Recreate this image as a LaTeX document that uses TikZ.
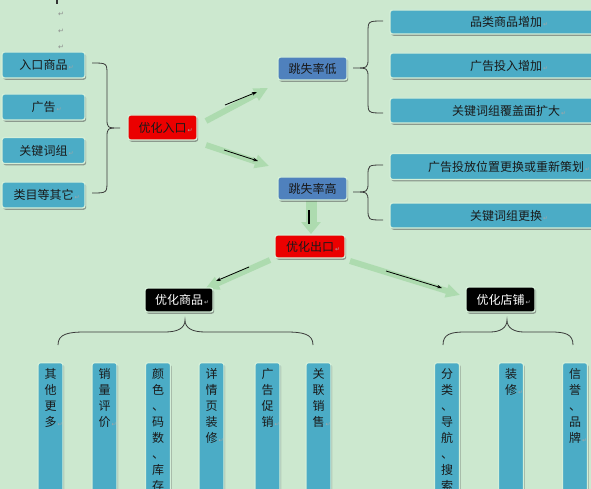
\documentclass[tikz,border=0pt]{standalone}
\usepackage{fontspec}
\newfontfamily\cjkfont{Noto Sans CJK SC}
\newfontfamily\symfont{DejaVu Sans}
\usetikzlibrary{arrows.meta,shadows}
\definecolor{bg}{HTML}{CCE8CF}
\definecolor{aqua}{HTML}{4BACC6}
\definecolor{steel}{HTML}{4F81BD}
\definecolor{edge}{HTML}{D4EFD8}
\definecolor{garrow}{HTML}{ADDBAF}
\definecolor{bracec}{HTML}{3A3A3A}
\newcommand{\retmark}{\rlap{\symfont\fontsize{6}{6}\selectfont\color{black!35}\,↵}}
\newcommand{\retmarkw}{\rlap{\symfont\fontsize{6}{6}\selectfont\color{white!75!black}\,↵}}
\tikzset{
  box/.style={rounded corners=2.5pt, draw=edge, line width=1.3pt, inner sep=0pt,
    font=\cjkfont\fontsize{12}{14}\selectfont, text=black!90,
    drop shadow={shadow xshift=1.2pt, shadow yshift=-1.8pt, opacity=0.5, fill=black!70}},
  aquabox/.style={box, fill=aqua},
  steelbox/.style={box, fill=steel},
  redbox/.style={box, fill=red!92!black},
  blackbox/.style={box, fill=black, text=white},
  vbox/.style={aquabox, minimum width=25pt, minimum height=150pt, anchor=north},
  vtext/.style={font=\cjkfont\fontsize{12}{16}\selectfont, align=center, inner sep=0pt, anchor=north, text=black!90},
  bracestyle/.style={draw=bracec, line width=0.8pt},
  bigarrow/.style={draw=garrow, line width=6pt, -{Triangle[width=13pt 0, length=14pt 0]}},
  downarrow/.style={draw=garrow, line width=11pt, -{Triangle[width=19pt 0, length=12pt 0]}},
  thinarrow/.style={draw=black, line width=0.8pt, -{Stealth[length=5pt 0, width=3.5pt 0]}},
  pmark/.style={font=\symfont\fontsize{7}{7}\selectfont, text=black!45, inner sep=0pt}
}
\begin{document}
\begin{tikzpicture}[x=1pt,y=-1pt]
\fill[bg] (0,0) rectangle (591,489);
\useasboundingbox (0,0) rectangle (591,489);
\clip (0,0) rectangle (591,489);

% paragraph marks and cursor at top left
\draw[line width=1.2pt, black!80] (57,0) -- (57,4);
\node[pmark] (p1) at (61,14) {↵};
\node[pmark] (p2) at (61,31) {↵};
\node[pmark] (p3) at (61,47) {↵};

% coordinates of the block arrows
\coordinate (a1t) at (206,121);
\coordinate (a1h) at (268,88);
\coordinate (b1t) at (225,105);
\coordinate (b1h) at (257,92);
\coordinate (a2t) at (206,145);
\coordinate (a2h) at (269,166);
\coordinate (b2t) at (224,150);
\coordinate (b2h) at (258,161);
\coordinate (a3t) at (311,200);
\coordinate (a3h) at (311,234);
\coordinate (b3t) at (309,210);
\coordinate (b3h) at (309,224);
\coordinate (a4t) at (270,260);
\coordinate (a4h) at (205,289);
\coordinate (b4t) at (249,267);
\coordinate (b4h) at (216,281);
\coordinate (a5t) at (350,261);
\coordinate (a5h) at (460,295);
\coordinate (b5t) at (386,271);
\coordinate (b5h) at (442,288);

% green block arrows
\draw[bigarrow] (a1t) -- (a1h);
\draw[bigarrow] (a2t) -- (a2h);
\draw[downarrow] (a3t) -- (a3h);
\draw[bigarrow] (a4t) -- (a4h);
\draw[bigarrow] (a5t) -- (a5h);
\draw[thinarrow] (b1t) -- (b1h);
\draw[thinarrow] (b2t) -- (b2h);
\draw[line width=1.6pt, black] (b3t) -- (b3h);
\draw[thinarrow] (b4t) -- (b4h);
\draw[thinarrow] (b5t) -- (b5h);

% left column
\node[aquabox, minimum width=83pt, minimum height=26pt] (l1) at (43.5,65) {入口商品\retmark};
\node[aquabox, minimum width=83pt, minimum height=26pt] (l2) at (43.5,107) {广告\retmark};
\node[aquabox, minimum width=83pt, minimum height=26pt] (l3) at (43.5,150.5) {关键词组\retmark};
\node[aquabox, minimum width=83pt, minimum height=26pt] (l4) at (43.5,195) {类目等其它\retmark};

% left brace
\draw[bracestyle] (92,63) .. controls (107,63) .. (107,75) -- (107,118) .. controls (107,128) .. (120,128)
  .. controls (107,128) .. (107,138) -- (107,181) .. controls (107,193) .. (92,193);

\node[redbox, minimum width=69pt, minimum height=25pt] (optin) at (162.5,127.5) {优化入口\retmark};

\node[steelbox, minimum width=69pt, minimum height=23pt] (low) at (312.5,68.5) {跳失率低};
\node[steelbox, minimum width=69pt, minimum height=23pt] (high) at (312.5,188.5) {跳失率高};

% right braces
\draw[bracestyle] (383,21) .. controls (368,21) .. (368,33) -- (368,58) .. controls (368,68) .. (353,68)
  .. controls (368,68) .. (368,78) -- (368,101) .. controls (368,113) .. (383,113);
\draw[bracestyle] (383,165) .. controls (368,165) .. (368,176) -- (368,182) .. controls (368,192) .. (353,192)
  .. controls (368,192) .. (368,202) -- (368,209) .. controls (368,220) .. (383,220);

% right column
\node[aquabox, minimum width=232pt, minimum height=24pt] (r1) at (506,22) {品类商品增加\retmark};
\node[aquabox, minimum width=232pt, minimum height=25pt] (r2) at (506,65.5) {广告投入增加\retmark};
\node[aquabox, minimum width=232pt, minimum height=25pt] (r3) at (506,110.5) {关键词组覆盖面扩大\retmark};
\node[aquabox, minimum width=232pt, minimum height=26pt] (r4) at (506,166.5) {广告投放位置更换或重新策划\retmark};
\node[aquabox, minimum width=232pt, minimum height=25pt] (r5) at (506,215.5) {关键词组更换\retmark};

\node[redbox, minimum width=70pt, minimum height=23pt] (optout) at (310,246.5) {优化出口\retmark};

\node[blackbox, minimum width=68pt, minimum height=24pt] (goods) at (179,300) {优化商品\retmarkw};
\node[blackbox, minimum width=69pt, minimum height=25pt] (shop) at (500.5,299.5) {优化店铺\retmarkw};

% bottom braces
\draw[bracestyle] (58,345) .. controls (58,334) and (68,332) .. (85,332) -- (165,332)
  .. controls (178,332) and (185,328) .. (185,320) .. controls (185,328) and (192,332) .. (205,332)
  -- (286,332) .. controls (303,332) and (313,334) .. (313,345);
\draw[bracestyle] (443,345) .. controls (443,334) and (451,332) .. (465,332) -- (490,332)
  .. controls (500,332) and (507,328) .. (507,320) .. controls (507,328) and (514,332) .. (524,332)
  -- (551,332) .. controls (565,332) and (573,334) .. (573,345);

% vertical boxes
\node[vbox] (g1) at (50.5,362) {};
\node[vbox] (g2) at (104.5,362) {};
\node[vbox] (g3) at (158,362) {};
\node[vbox] (g4) at (211.5,362) {};
\node[vbox] (g5) at (267.5,362) {};
\node[vbox] (g6) at (318.5,362) {};
\node[vbox] (s1) at (447,362) {};
\node[vbox] (s2) at (511,362) {};
\node[vbox] (s3) at (575,362) {};

\node[vtext] (g1t) at (50.5,368) {其\\他\\更\\多\retmark};
\node[vtext] (g2t) at (104.5,368) {销\\量\\评\\价\retmark};
\node[vtext] (g3t) at (158,368) {颜\\色\\、\\码\\数\\、\\库\\存};
\node[vtext] (g4t) at (211.5,368) {详\\情\\页\\装\\修\retmark};
\node[vtext] (g5t) at (267.5,368) {广\\告\\促\\销\retmark};
\node[vtext] (g6t) at (318.5,368) {关\\联\\销\\售\retmark};
\node[vtext] (s1t) at (447,368) {分\\类\\、\\导\\航\\、\\搜\\索};
\node[vtext] (s2t) at (511,368) {装\\修\retmark};
\node[vtext] (s3t) at (575,368) {信\\誉\\、\\品\\牌\retmark};
\end{tikzpicture}
\end{document}
